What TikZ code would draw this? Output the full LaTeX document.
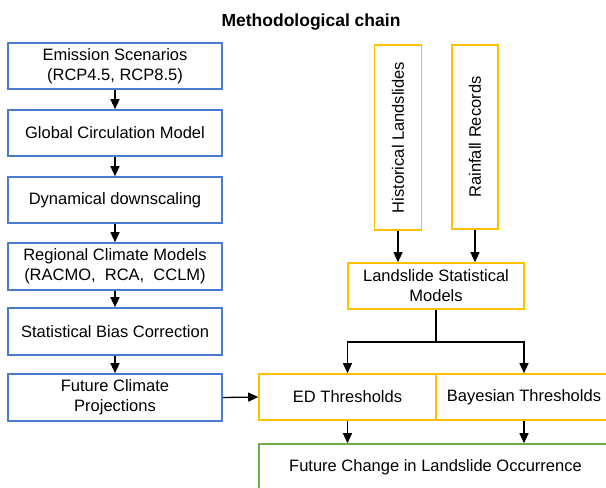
\documentclass[tikz,border=0pt]{standalone}
\usepackage{fontspec}
\setmainfont{Liberation Sans}
\usetikzlibrary{arrows.meta}
\definecolor{climblue}{HTML}{4A7BD0}
\definecolor{slideyellow}{HTML}{FFC000}
\definecolor{outgreen}{HTML}{70AD47}

\begin{document}
\begin{tikzpicture}[x=1pt, y=-1pt,
    box/.style={draw, line width=1.6pt, align=center, inner sep=2pt,
      font=\fontsize{16.5}{20}\selectfont},
    climbox/.style={box, draw=climblue, minimum width=214pt, minimum height=46pt},
    slidebox/.style={box, draw=slideyellow, minimum width=176pt, minimum height=46pt},
    outbox/.style={box, draw=outgreen, minimum width=353pt, minimum height=46pt},
    flow/.style={line width=1.3pt, -{Triangle[length=10pt, width=9pt]}}]
  \clip (0,0) rectangle (606,488);
  % title
  \node (title) at (311,22) {\fontsize{17.5}{20}\selectfont\bfseries Methodological chain};
  % climate chain
  \node [climbox] (emis) at (115,66) {Emission Scenarios\\(RCP4.5, RCP8.5)};
  \node [climbox] (gcm) at (115,133) {Global Circulation Model};
  \node [climbox] (dyn) at (115,200) {Dynamical downscaling};
  \node [climbox, minimum height=47pt] (rcm) at (115,266.5) {Regional Climate Models\\(RACMO,\ \ RCA,\ \ CCLM)};
  \node [climbox, minimum height=47pt] (bias) at (115,331.5) {Statistical Bias Correction};
  \node [climbox, minimum height=47pt] (proj) at (115,397.5) {Future Climate\\Projections};
  % landslide chain
  \node [slidebox, rotate=90, minimum width=185pt, minimum height=47pt] (hist) at (398,137.5) {Historical Landslides};
  \node [slidebox, rotate=90, minimum width=184pt, minimum height=46pt] (rain) at (475,137) {Rainfall Records};
  \node [slidebox] (lsm) at (436,286) {Landslide Statistical\\Models};
  \node [slidebox, minimum width=177pt] (ed) at (347.5,397) {ED Thresholds};
  \node [slidebox] (bayes) at (524,397) {Bayesian Thresholds};
  \node [outbox] (change) at (435.5,467) {Future Change in Landslide Occurrence};
  \coordinate (split) at (436,342);
  % Relations
  \draw [flow] (emis) -- (gcm);
  \draw [flow] (gcm) -- (dyn);
  \draw [flow] (dyn) -- (rcm);
  \draw [flow] (rcm) -- (bias);
  \draw [flow] (bias) -- (proj);
  \draw [flow] (proj.east) -- (ed.west);
  \draw [flow] (hist) -- (hist |- lsm.north);
  \draw [flow] (rain) -- (rain |- lsm.north);
  \draw [line width=1.3pt] (lsm.south) -- (split);
  \draw [flow] (split) -| (ed.north);
  \draw [flow] (split) -| (bayes.north);
  \draw [flow] (ed.south) -- (ed.south |- change.north);
  \draw [flow] (bayes.south) -- (bayes.south |- change.north);
\end{tikzpicture}
\end{document}
